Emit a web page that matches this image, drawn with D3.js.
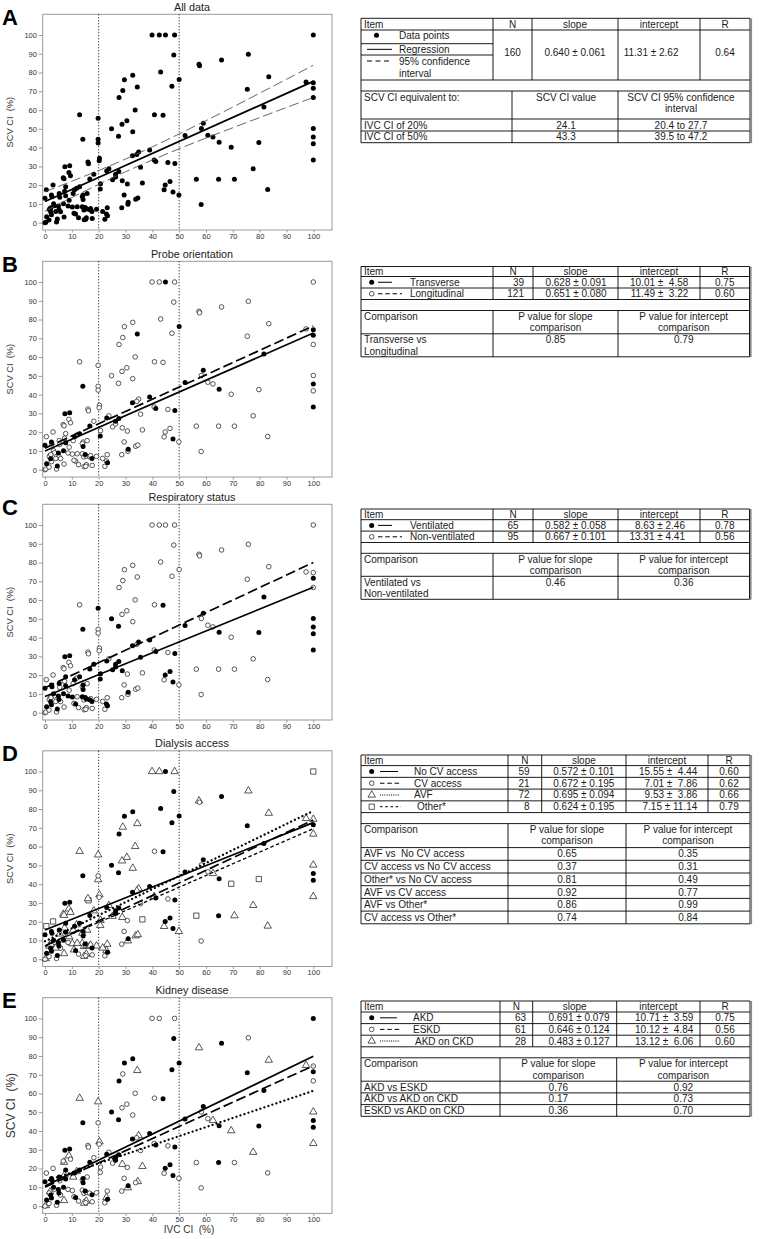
<!DOCTYPE html>
<html><head><meta charset="utf-8">
<script src="https://cdn.jsdelivr.net/npm/d3@7"></script>
<style>body{margin:0;background:#fff}svg{display:block}text{font-family:"Liberation Sans",Arial,sans-serif}</style>
</head><body><svg id="c" width="767" height="1239"></svg>
<script>
// ---------------- DATA ----------------
const xTicks = [0,10,20,30,40,50,60,70,80,90,100];
const yTicks = [0,10,20,30,40,50,60,70,80,90,100];
const refLines = [20, 50];
const panelLetters = ["A","B","C","D","E"];
const panelTitles = ["All data","Probe orientation","Respiratory status","Dialysis access","Kidney disease"];
// [IVC CI, SCV CI, probe (T/L), ventilation (V/N), access (n/c/a/o), disease (f=AKD,o=ESKD,t=AKD on CKD,X=not shown)]
const points = [
[39.9,100,'L','N','a','o'],[42.6,100,'L','N','a','o'],[44.9,100,'T','N','n','X'],[48.3,100,'L','N','a','o'],[100,100,'L','N','o','f'],
[48.0,89.3,'L','N','n','f'],[75.8,89.7,'L','N','a','o'],[65.8,86.7,'L','N','n','f'],[57.4,84.4,'L','N','a','t'],[57.6,83.6,'L','N','c','X'],
[43.1,80.3,'L','N','n','X'],[32.7,78.5,'L','N','n','f'],[29.6,76.2,'L','N','n','f'],[50.0,76.3,'T','N','n','f'],[47.3,72.7,'L','N','n','f'],
[34.4,72.3,'T','N','a','t'],[29.0,70.4,'L','N','a','o'],[27.6,66.7,'L','N','n','f'],[83.4,77.8,'L','N','a','t'],[75.4,71.1,'L','N','n','f'],
[97.3,75.0,'L','N','a','t'],[100,74.6,'T','N','a','o'],[100,71.6,'T','V','n','f'],[100,66.7,'L','N','a','o'],[81.6,61.6,'T','V','n','f'],
[12.9,57.5,'L','N','a','t'],[19.8,55.6,'L','V','a','t'],[40.8,57.5,'L','N','c','o'],[44.0,57.2,'L','V','n','f'],[33.6,60.1,'L','N','a','o'],
[30.5,54.3,'L','N','a','o'],[28.7,52.4,'L','N','a','o'],[24.8,50.1,'L','V','n','f'],[32.7,48.5,'L','N','a','o'],[27.4,46.0,'L','V','n','f'],
[14.1,44.4,'T','V','n','f'],[19.8,44.4,'L','N','c','o'],[59.0,53.0,'T','V','n','f'],[58.3,50.2,'L','N','c','o'],[52.2,46.4,'T','V','n','f'],
[60.7,46.6,'L','N','c','o'],[62.6,45.7,'L','N','a','t'],[64.9,42.8,'T','V','n','f'],[69.4,40.2,'L','N','o','t'],[79.7,42.7,'L','V','o','f'],
[100,50.2,'L','V','a','t'],[100,45.6,'T','V','n','f'],[100,42.0,'L','V','n','f'],[100,33.4,'T','V','a','t'],[77.6,28.7,'L','N','a','t'],
[56.4,23.2,'L','N','o','o'],[64.7,23.2,'L','N','n','f'],[70.6,23.2,'L','N','a','o'],[83.0,17.7,'L','N','a','o'],[58.2,9.7,'L','N','c','o'],
[49.9,14.8,'L','N','a','o'],[39.0,38.7,'T','V','n','f'],[34.9,37.6,'L','V','a','t'],[34.2,36.4,'L','N','a','o'],[32.6,35.7,'T','V','n','f'],
[40.7,33.4,'L','N','a','o'],[41.3,32.6,'T','V','n','f'],[45.8,32.1,'L','N','c','o'],[48.4,31.5,'T','V','n','f'],[36.3,21.2,'L','N','o','t'],
[28.8,22.3,'L','V','a','t'],[30.7,20.6,'L','N','c','o'],[35.6,29.6,'L','V','c','o'],[44.8,20.1,'L','V','n','f'],[46.6,22.0,'L','V','n','f'],
[44.4,17.5,'L','N','a','o'],[47.7,16.3,'T','V','n','f'],[29.5,14.8,'L','N','c','o'],[33.8,12.5,'L','N','a','o'],[34.6,13.1,'L','N','a','t'],
[31.0,10.9,'T','V','n','f'],[30.9,9.8,'L','N','a','t'],[28.6,8.0,'L','N','c','o'],[23.2,8.0,'L','N','a','o'],[22.9,4.6,'L','V','a','t'],
[23.3,3.7,'T','V','n','f'],[22.3,1.8,'L','N','c','o'],[25.2,22.9,'L','V','a','o'],[26.3,24.4,'L','V','n','f'],[26.3,25.8,'T','V','n','f'],
[23.0,27.6,'T','V','n','f'],[23.8,28.7,'L','N','a','o'],[27.5,27.3,'T','V','n','f'],[20.3,34.3,'L','N','a','t'],[20.2,33.0,'L','N','c','o'],
[20.7,20.8,'L','V','a','o'],[20.6,18.0,'T','V','a','o'],[19.8,42.4,'L','N','a','X'],[0.5,17.6,'L','N','o','o'],[0,13.0,'T','V','n','f'],
[0.6,3.2,'T','V','n','f'],[0,0,'L','N','c','o'],[0.3,0.3,'L','N','a','t'],[3.0,20.1,'L','N','o','o'],[2.4,14.7,'T','V','n','f'],
[2.6,13.8,'L','V','n','f'],[1.9,7.6,'L','N','a','t'],[1.6,7.0,'L','N','a','o'],[2.1,5.9,'T','V','n','f'],[2.4,4.3,'L','V','n','f'],
[1.5,1.4,'L','N','c','o'],[3.2,10.1,'L','V','n','f'],[4.6,2.0,'T','V','n','f'],[4.3,0.4,'L','N','c','o'],[5.0,8.9,'T','V','n','f'],
[5.2,7.0,'L','V','n','f'],[5.8,5.9,'L','N','c','o'],[5.3,15.5,'L','V','n','f'],[7.1,3.0,'L','N','a','t'],[6.9,10.1,'T','V','n','f'],
[6.8,24.0,'L','N','a','o'],[7.1,23.4,'L','N','a','t'],[7.4,29.8,'T','V','n','f'],[8.9,26.8,'L','N','a','t'],[9.2,30.4,'T','V','n','f'],
[9.5,25.0,'L','N','a','o'],[7.7,19.2,'L','V','n','f'],[7.7,14.4,'T','V','n','f'],[7.3,16.7,'L','N','a','t'],[8.6,8.9,'L','V','c','o'],
[10.2,8.3,'L','V','a','o'],[10.5,15.5,'L','N','a','t'],[11.0,17.6,'T','V','n','f'],[11.4,4.6,'L','V','n','f'],[12.5,2.7,'L','N','c','o'],
[12.9,19.2,'T','V','n','f'],[14.2,14.7,'L','V','n','f'],[14.2,12.4,'T','V','n','f'],[13.9,13.9,'L','N','a','o'],[13.9,8.5,'L','V','a','o'],
[14.5,6.8,'L','N','a','o'],[15.0,8.1,'T','V','n','f'],[15.4,7.3,'L','V','a','o'],[15.4,2.7,'L','N','a','t'],[14.6,1.6,'L','N','a','t'],
[15.2,1.8,'L','N','c','o'],[15.7,15.5,'L','N','a','o'],[16.0,32.3,'L','N','a','o'],[16.2,31.4,'L','N','o','o'],[16.7,23.3,'T','V','n','f'],
[16.6,6.9,'L','V','a','o'],[17.6,2.3,'L','N','c','o'],[17.5,6.0,'T','V','n','f'],[18.2,25.8,'L','V','a','o'],[19.2,7.1,'L','N','a','o'],
[11.8,18.4,'L','N','a','t'],[5.5,13.5,'L','N','a','o'],[3.5,9.0,'L','N','a','o'],[10.8,5.0,'L','N','a','o'],[2.2,8.0,'L','N','a','X'],
[9.0,12.0,'L','N','a','X'],[12.0,8.5,'L','N','a','X'],[4.0,6.0,'L','N','a','X'],[17.0,7.5,'L','N','a','X'],[21.5,6.0,'L','N','a','X']
];
// All-data regression and its 95% confidence band
const allSlope = 0.640, allIntercept = 11.31;
const ciX     = [0,10,20,30,40,50,60,70,80,90,100];
const ciLower = [6.1,13.4,20.4,27.1,33.4,39.4,45.1,50.6,56.0,61.4,66.7];
const ciUpper = [16.5,22.1,27.8,33.9,40.4,47.3,54.4,61.6,69.0,76.4,83.9];
// group codes for panels B..E (index 2..5 of each point)
const groupCodes = [["T","L"],["V","N"],["n","c","a","o"],["f","o","t"]];
const groupLabels = [["Transverse","Longitudinal"],["Ventilated","Non-ventilated"],["No CV access","CV access","AVF","Other*"],["AKD","ESKD","AKD on CKD"]];
const groupN = [[39,121],[65,95],[59,21,72,8],[63,61,28]];
const groupSlope = [[0.628,0.651],[0.582,0.667],[0.572,0.672,0.695,0.624],[0.691,0.646,0.483]];
const groupSlopeSE = [[0.091,0.080],[0.058,0.101],[0.101,0.195,0.094,0.195],[0.079,0.124,0.127]];
const groupIntercept = [[10.01,11.49],[8.63,13.31],[15.55,7.01,9.53,7.15],[10.71,10.12,13.12]];
const groupInterceptSE = [[4.58,3.22],[2.46,4.41],[4.44,7.86,3.86,11.14],[3.59,4.84,6.06]];
const groupR = [[0.75,0.60],[0.78,0.56],[0.60,0.62,0.66,0.79],[0.75,0.56,0.60]];
const comparisons = [
  [[["Transverse vs","Longitudinal"],"0.85","0.79"]],
  [[["Ventilated vs","Non-ventilated"],"0.46","0.36"]],
  [[["AVF vs  No CV access"],"0.65","0.35"],[["CV access vs No CV access"],"0.37","0.31"],[["Other* vs No CV access"],"0.81","0.49"],
   [["AVF vs CV access"],"0.92","0.77"],[["AVF vs Other*"],"0.86","0.99"],[["CV access vs Other*"],"0.74","0.84"]],
  [[["AKD vs ESKD"],"0.76","0.92"],[["AKD vs AKD on CKD"],"0.17","0.73"],[["ESKD vs AKD on CKD"],"0.36","0.70"]]
];
const allStats = {n:160, slope:0.640, slopeSE:0.061, intercept:11.31, interceptSE:2.62, r:0.64};
const equivRows = [["IVC CI of 20%","24.1","20.4 to 27.7"],["IVC CI of 50%","43.3","39.5 to 47.2"]];

// ---------------- LAYOUT / STYLE ----------------
const svg = d3.select("#c");
svg.append("rect").attr("width",767).attr("height",1239).attr("fill","#fff");
const panelOff = [0, 247, 490, 736.5, 983.4];
const markerOf = [["fill","open"],["fill","open"],["fill","open","tri","sq"],["fill","open","tri"]];
const lineOf = [["solid","dash"],["solid","dash"],["solid","dash","dot","short"],["solid","dash","dot"]];
const lineStyle = {
  solid:{w:1.7,dash:null,cap:"butt"},
  dash:{w:1.7,dash:"10,4",cap:"butt"},
  dot:{w:2.3,dash:"0.01,4.2",cap:"round"},
  short:{w:1.3,dash:"3.5,2.5",cap:"butt"}
};
const legendLine = {
  solid:{w:1,dash:null,cap:"butt"},
  dash:{w:1,dash:"4.5,2.8",cap:"butt"},
  dot:{w:1,dash:"1,1.2",cap:"butt"},
  short:{w:1,dash:"2.6,2.6",cap:"butt"}
};
const TXT = "#1c1c1c";

function marker(g, type, cx, cy) {
  if (type === "fill") g.append("circle").attr("cx",cx).attr("cy",cy).attr("r",2.5).attr("fill","#000");
  else if (type === "open") g.append("circle").attr("cx",cx).attr("cy",cy).attr("r",2.3).attr("fill","#fff").attr("stroke","#222").attr("stroke-width",0.75);
  else if (type === "tri") g.append("path").attr("d",d3.symbol(d3.symbolTriangle,24)()).attr("transform",`translate(${cx},${cy})`).attr("fill","#fff").attr("stroke","#222").attr("stroke-width",0.75);
  else if (type === "sq") g.append("path").attr("d",d3.symbol(d3.symbolSquare,28)()).attr("transform",`translate(${cx},${cy})`).attr("fill","#fff").attr("stroke","#222").attr("stroke-width",0.75);
}

function drawPanel(i) {
  const off = panelOff[i];
  const g = svg.append("g");
  const x = d3.scaleLinear().domain([0,100]).range([45,313.3]);
  const y = d3.scaleLinear().domain([0,100]).range([222.7+off,35+off]);
  const top = 14.3+off, bot = 230+off, left = 42.7, right = 332;
  g.append("text").attr("x",2).attr("y",24.5+off).attr("font-size",22).attr("font-weight","bold").attr("fill","#000").text(panelLetters[i]);
  g.append("text").attr("x",192).attr("y",10.8+off).attr("text-anchor","middle").attr("font-size",10.8).attr("fill",TXT).text(panelTitles[i]);
  g.append("rect").attr("x",left).attr("y",top).attr("width",right-left).attr("height",bot-top).attr("fill","none").attr("stroke","#9a9a9a").attr("stroke-width",1);
  const ya = g.append("g").attr("transform",`translate(${left},0)`).call(d3.axisLeft(y).tickValues(yTicks).tickSize(4).tickPadding(1.8));
  const xa = g.append("g").attr("transform",`translate(0,${bot})`).call(d3.axisBottom(x).tickValues(xTicks).tickSize(2.5).tickPadding(0.8));
  [ya,xa].forEach(a=>{ a.select(".domain").remove(); a.selectAll("line").attr("stroke","#9a9a9a");
    a.selectAll("text").attr("font-size",7.5).attr("fill","#333").attr("font-family",'"Liberation Sans",Arial,sans-serif'); });
  const ylab = i===4 ? 12 : 9.3;
  g.append("text").attr("transform",`translate(${i===4?15:13},${(top+bot)/2}) rotate(-90)`).attr("text-anchor","middle")
    .attr("font-size",ylab).attr("fill","#333").style("white-space","pre").text("SCV CI  (%)");
  if (i===4) g.append("text").attr("x",189).attr("y",bot+19.5).attr("text-anchor","middle").attr("font-size",10).attr("fill","#333").style("white-space","pre").text("IVC CI  (%)");
  refLines.forEach(v => g.append("line").attr("x1",x(v)).attr("x2",x(v)).attr("y1",top).attr("y2",bot)
    .attr("stroke","#000").attr("stroke-width",1).attr("stroke-dasharray","1,2"));
  const pg = g.append("g");
  const lg = g.append("g");
  const seg = (a,b) => lg.append("line").attr("x1",x(0)).attr("x2",x(100)).attr("y1",y(b)).attr("y2",y(b+a*100));
  if (i===0) {
    points.forEach(p => marker(pg,"fill",x(p[0]),y(p[1])));
    const band = d3.line().x((d,k)=>x(ciX[k])).y(d=>y(d)).curve(d3.curveMonotoneX);
    [ciLower,ciUpper].forEach(arr => lg.append("path").attr("d",band(arr)).attr("fill","none").attr("stroke","#555").attr("stroke-width",0.9).attr("stroke-dasharray","10,4"));
    seg(allSlope, allIntercept).attr("stroke","#000").attr("stroke-width",1.8);
  } else {
    const k = i-1;
    for (let gi = groupCodes[k].length-1; gi >= 0; gi--) {
      points.filter(p => p[1+i] === groupCodes[k][gi]).forEach(p => marker(pg, markerOf[k][gi], x(p[0]), y(p[1])));
    }
    groupCodes[k].forEach((c,gi) => {
      const st = lineStyle[lineOf[k][gi]];
      const l = seg(groupSlope[k][gi], groupIntercept[k][gi]).attr("stroke","#000").attr("stroke-width",st.w).attr("stroke-linecap",st.cap);
      if (st.dash) l.attr("stroke-dasharray",st.dash);
    });
  }
}
for (let i=0;i<5;i++) drawPanel(i);

// ---------------- TABLES ----------------
const FS = 10;
function T(g,x,y,s,anchor){ return g.append("text").attr("x",x).attr("y",y).attr("text-anchor",anchor||"start").attr("font-size",FS).attr("fill",TXT).style("white-space","pre").text(s); }
function H(g,x0,x1,y){ g.append("line").attr("x1",x0).attr("x2",x1).attr("y1",y).attr("y2",y).attr("stroke","#000").attr("stroke-width",0.9); }
function V(g,x,y0,y1){ g.append("line").attr("x1",x).attr("x2",x).attr("y1",y0).attr("y2",y1).attr("stroke","#000").attr("stroke-width",0.9); }
function frame(g,x0,x1,y0,y1){ H(g,x0,x1,y0); H(g,x0,x1,y1); V(g,x0,y0,y1); V(g,x1,y0,y1);
  g.append("line").attr("x1",x1+1.3).attr("x2",x1+1.3).attr("y1",y0).attr("y2",y1+0.5).attr("stroke","#8a8a8a").attr("stroke-width",1.6); }
const pmStr = (v, se, dv, pad) => { let s = se.toFixed(dv); if (pad) while (s.length < 5) s = " " + s; return v.toFixed(dv) + " ± " + (pad ? s : s); };
const mid = (y0,y1) => (y0+y1)/2 + 3.5;

// Table A
(function(){
  const g = svg.append("g");
  const c = [361,493,532,618,700,750];
  const r = [18.3,30,43.7,55,80,91,119,131,142.7];
  frame(g,c[0],c[5],r[0],r[8]);
  H(g,c[0],c[5],r[1]); H(g,c[0],c[1],r[2]); H(g,c[0],c[1],r[3]); H(g,c[0],c[5],r[4]); H(g,c[0],c[5],r[5]);
  H(g,c[0],c[5],r[6]); H(g,c[0],c[5],r[7]);
  for (let j=1;j<5;j++) V(g,c[j],r[0],r[4]);
  const bc = [361,512,618,750];
  V(g,bc[1],r[5],r[8]); V(g,bc[2],r[5],r[8]);
  T(g,c[0]+3,mid(r[0],r[1]),"Item"); T(g,(c[1]+c[2])/2,mid(r[0],r[1]),"N","middle");
  T(g,(c[2]+c[3])/2,mid(r[0],r[1]),"slope","middle"); T(g,(c[3]+c[4])/2,mid(r[0],r[1]),"intercept","middle"); T(g,(c[4]+c[5])/2,mid(r[0],r[1]),"R","middle");
  marker(g,"fill",376.5,(r[1]+r[2])/2-1.5); T(g,399,mid(r[1],r[2])-1.5,"Data points");
  g.append("line").attr("x1",367).attr("x2",392).attr("y1",(r[2]+r[3])/2).attr("y2",(r[2]+r[3])/2).attr("stroke","#000").attr("stroke-width",1);
  T(g,399,mid(r[2],r[3]),"Regression");
  g.append("line").attr("x1",367).attr("x2",392).attr("y1",r[3]+6).attr("y2",r[3]+6).attr("stroke","#000").attr("stroke-width",1).attr("stroke-dasharray","5,3.5");
  T(g,399,r[3]+9.7,"95% confidence"); T(g,399,r[3]+21.7,"interval");
  const yv = (r[1]+r[4])/2 - 3 + 3.5;
  T(g,(c[1]+c[2])/2,yv,String(allStats.n),"middle");
  T(g,575,yv,pmStr(allStats.slope,allStats.slopeSE,3,false),"middle");
  T(g,678.5,yv,pmStr(allStats.intercept,allStats.interceptSE,2,false),"end");
  T(g,(c[4]+c[5])/2,yv,allStats.r.toFixed(2),"middle");
  T(g,c[0]+3,r[5]+9.5,"SCV CI equivalent to:");
  T(g,(bc[1]+bc[2])/2+1,r[5]+9.5,"SCV CI value","middle");
  T(g,(bc[2]+bc[3])/2-3,r[5]+9.5,"SCV CI 95% confidence","middle"); T(g,(bc[2]+bc[3])/2-3,r[5]+21,"interval","middle");
  equivRows.forEach((row,j)=>{ const yb = mid(r[6+j],r[7+j]);
    T(g,c[0]+3,yb,row[0]); T(g,(bc[1]+bc[2])/2+1,yb,row[1],"middle"); T(g,(bc[2]+bc[3])/2-3,yb,row[2],"middle"); });
})();

// Tables B..E
const tableLayout = [
  {top:266.5, cols:[361,493,533,618,700,749.5], hH:10, rH:11.5, bH:11, chH:23.3, crH:23, nX:524, nA:"end", sX:576, iEnd:688.3, pad:true, mX:371.7, l0:378, l1:[392,402], lab:410},
  {top:509, cols:[361,493,533,618,700,749.5], hH:10.7, rH:11.4, bH:10.8, chH:23, crH:23, nX:513, nA:"middle", sX:575.5, iEnd:685, pad:false, mX:371.7, l0:378, l1:[392,402], lab:410},
  {top:755, cols:[361,508,541.7,626,708,750], hH:10.6, rH:11.75, bH:11, chH:24, crH:12.7, nX:529.5, nA:"end", sX:583.8, iEnd:697.3, pad:true, mX:371.7, l0:380, l1:[398,402,400,401], lab:414},
  {top:1001, cols:[361,500,532.7,616.7,700,750], hH:11, rH:11.6, bH:11, chH:23.4, crH:11.7, nX:526, nA:"end", sX:579, iEnd:693.3, pad:true, mX:371.7, l0:380, l1:[397,400,400], lab:413}
];
tableLayout.forEach((L,k)=>{
  const g = svg.append("g");
  const c = L.cols, n = groupCodes[k].length, comps = comparisons[k];
  const t1 = L.top + L.hH, tEnd = t1 + n*L.rH, bEnd = tEnd + L.bH, hEnd = bEnd + L.chH, bottom = hEnd + comps.length*L.crH;
  frame(g,c[0],c[5],L.top,bottom);
  H(g,c[0],c[5],t1);
  for (let j=1;j<=n;j++) H(g,c[0],c[5],t1+j*L.rH);
  H(g,c[0],c[5],bEnd); H(g,c[0],c[5],hEnd);
  for (let j=1;j<comps.length;j++) H(g,c[0],c[5],hEnd+j*L.crH);
  for (let j=1;j<5;j++) V(g,c[j],L.top,tEnd);
  V(g,c[1],bEnd,bottom); V(g,c[3],bEnd,bottom);
  const yh = mid(L.top,t1);
  T(g,c[0]+3,yh,"Item"); T(g,(c[1]+c[2])/2,yh,"N","middle"); T(g,(c[2]+c[3])/2,yh,"slope","middle");
  T(g,(c[3]+c[4])/2,yh,"intercept","middle"); T(g,(c[4]+c[5])/2,yh,"R","middle");
  groupCodes[k].forEach((code,gi)=>{
    const y0 = t1+gi*L.rH, yb = mid(y0,y0+L.rH), ym = y0+L.rH/2;
    marker(g, markerOf[k][gi], L.mX, ym);
    const ls = legendLine[lineOf[k][gi]];
    const ln = g.append("line").attr("x1",L.l0).attr("x2",L.l1[gi]).attr("y1",ym).attr("y2",ym).attr("stroke","#000").attr("stroke-width",ls.w);
    if (ls.dash) ln.attr("stroke-dasharray",ls.dash);
    T(g,L.lab + (k===2&&gi===3?3:0) + (k===3&&gi===2?2:0),yb,groupLabels[k][gi]);
    T(g,L.nX,yb,String(groupN[k][gi]),L.nA);
    T(g,L.sX,yb,pmStr(groupSlope[k][gi],groupSlopeSE[k][gi],3,false),"middle");
    T(g,L.iEnd,yb,pmStr(groupIntercept[k][gi],groupInterceptSE[k][gi],2,L.pad),"end");
    T(g,(c[4]+c[5])/2,yb,groupR[k][gi].toFixed(2),"middle");
  });
  T(g,c[0]+3,bEnd+9.4,"Comparison");
  T(g,(c[1]+c[3])/2,bEnd+9.4,"P value for slope","middle"); T(g,(c[1]+c[3])/2,bEnd+20.8,"comparison","middle");
  T(g,(c[3]+c[5])/2,bEnd+9.4,"P value for intercept","middle"); T(g,(c[3]+c[5])/2,bEnd+20.8,"comparison","middle");
  comps.forEach((row,j)=>{
    const y0 = hEnd + j*L.crH;
    const yb = row[0].length>1 ? y0+9.4 : mid(y0,y0+L.crH);
    row[0].forEach((s,q)=>T(g,c[0]+3,yb+q*11.4,s));
    T(g,(c[1]+c[3])/2,yb,row[1],"middle"); T(g,(c[3]+c[5])/2,yb,row[2],"middle");
  });
});
</script></body></html>
